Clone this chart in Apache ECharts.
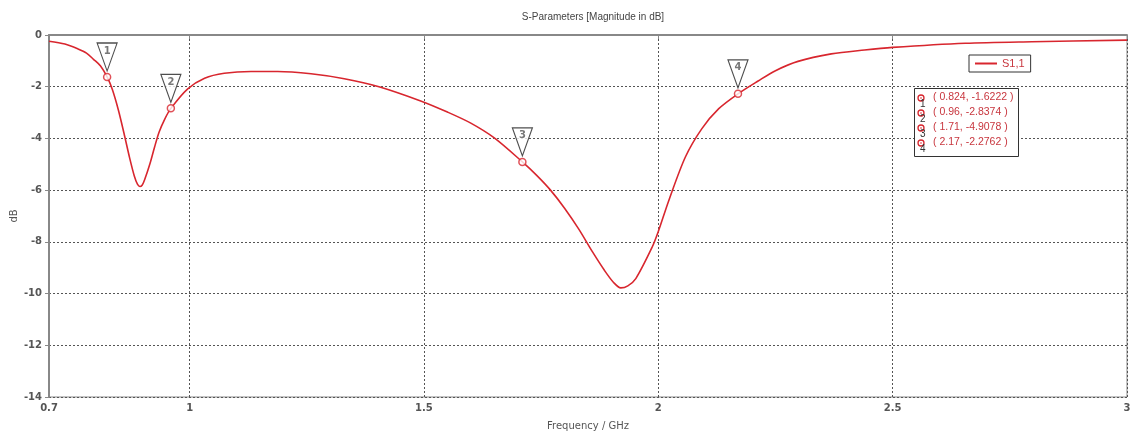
<!DOCTYPE html>
<html>
<head>
<meta charset="utf-8">
<title>S-Parameters</title>
<script src="https://cdn.jsdelivr.net/npm/echarts@6/dist/echarts.min.js"></script>
<style>
  html, body { margin: 0; padding: 0; background: #fff; }
  #chart { width: 1134px; height: 436px; }
</style>
</head>
<body>
<div id="chart"></div>
<script>
// S1,1 扫频数据 (GHz / dB)
const freq = [0.70, 0.734, 0.762, 0.78, 0.795, 0.81, 0.824, 0.835, 0.848, 0.86, 0.872, 0.882, 0.889, 0.894,
  0.899, 0.904, 0.915, 0.925, 0.935, 0.947, 0.96, 0.996, 1.032, 1.074, 1.131, 1.188, 1.259, 1.33, 1.404, 1.493,
  1.55, 1.599, 1.65, 1.71, 1.74, 1.77, 1.80, 1.83, 1.86, 1.885, 1.905, 1.92, 1.935, 1.952, 1.987, 2.0, 2.023,
  2.058, 2.093, 2.129, 2.17, 2.213, 2.25, 2.298, 2.369, 2.44, 2.5, 2.655, 2.797, 3.0]
const s11 = [-0.24, -0.35, -0.54, -0.7, -0.94, -1.2, -1.6222, -2.1, -2.9, -3.8, -4.75, -5.45, -5.78, -5.86,
  -5.8, -5.6, -5.0, -4.35, -3.75, -3.25, -2.8374, -2.08, -1.67, -1.48, -1.41, -1.41, -1.5, -1.69, -2.0, -2.55,
  -2.98, -3.4, -3.98, -4.9078, -5.42, -6.0, -6.7, -7.5, -8.4, -9.1, -9.58, -9.78, -9.7, -9.42, -8.2, -7.6, -6.37,
  -4.71, -3.62, -2.85, -2.2762, -1.78, -1.38, -1.02, -0.73, -0.58, -0.48, -0.32, -0.26, -0.2]

// 标记点
const markerNames = ['1', '2', '3', '4']
const markerFreq = [0.824, 0.96, 1.71, 2.17]
const markerDb = [-1.6222, -2.8374, -4.9078, -2.2762]

// 刻度
const xTicks = [0.7, 1, 1.5, 2, 2.5, 3]

const red = '#d8262e'
const labelGray = '#555'

const chart = echarts.init(document.getElementById('chart'))

// 标记表格 (右上角)
const tableRows = markerNames.map((n, i) => {
  const y = 98 + i * 15
  return [
    { type: 'circle', shape: { cx: 921, cy: y, r: 3 }, style: { fill: '#fff', stroke: red, lineWidth: 1.3 } },
    { type: 'circle', shape: { cx: 921, cy: y, r: 0.8 }, style: { fill: red } },
    { type: 'text', x: 920, y: y + 1, style: { text: n, fill: '#333', font: '10px "Liberation Sans"' } },
    { type: 'text', x: 933, y: y - 6, style: { text: '( ' + markerFreq[i] + ', ' + markerDb[i].toFixed(4) + ' )', fill: '#c8363e', font: '10.5px "Liberation Sans"' } }
  ]
}).flat()

const option = {
  animation: false,
  title: {
    text: 'S-Parameters [Magnitude in dB]',
    left: 588,
    textAlign: 'center',
    top: 7,
    textStyle: { fontSize: 10, fontWeight: 'normal', color: '#444', fontFamily: 'Liberation Sans' }
  },
  legend: {
    data: ['S1,1'],
    left: 969,
    top: 55,
    padding: [3, 6, 3, 6],
    borderColor: '#333',
    borderWidth: 1,
    itemWidth: 22,
    itemHeight: 10,
    icon: 'path://M0,4 L22,4 L22,6 L0,6 Z',
    textStyle: { color: '#c8363e', fontSize: 11, fontFamily: 'Liberation Sans' }
  },
  grid: {
    left: 49, right: 7, top: 35, bottom: 39,
    outerBoundsMode: 'none',
    containLabel: false,
    show: true, borderColor: '#888', borderWidth: 1
  },
  xAxis: {
    type: 'value',
    min: 0.7,
    max: 3,
    name: 'Frequency / GHz',
    nameLocation: 'middle',
    nameGap: 24,
    nameTextStyle: { fontSize: 10, color: labelGray, fontFamily: 'DejaVu Sans' },
    axisLine: { lineStyle: { color: '#888', width: 2 } },
    axisTick: { show: true, length: 4, customValues: xTicks, lineStyle: { color: '#888' } },
    axisLabel: {
      customValues: xTicks,
      color: labelGray, fontSize: 10, fontWeight: 'bold', fontFamily: 'DejaVu Sans', margin: 6
    },
    splitLine: { show: true, lineStyle: { color: '#555', type: [2, 2], width: 1 } }
  },
  yAxis: {
    type: 'value',
    min: -14,
    max: 0,
    interval: 2,
    axisLine: { show: true, lineStyle: { color: '#888', width: 2 } },
    axisTick: { show: true, length: 4, lineStyle: { color: '#888' } },
    axisLabel: { color: labelGray, fontSize: 10, fontWeight: 'bold', fontFamily: 'DejaVu Sans', margin: 7 },
    splitLine: { show: true, lineStyle: { color: '#555', type: [2, 2], width: 1 } }
  },
  series: [
    {
      name: 'S1,1',
      type: 'line',
      smooth: 0.3,
      showSymbol: false,
      lineStyle: { color: red, width: 1.6 },
      itemStyle: { color: red },
      data: freq.map((f, i) => [f, s11[i]]),
      z: 3
    },
    {
      name: 'marker-point',
      type: 'scatter',
      symbol: 'circle',
      symbolSize: 7,
      itemStyle: { color: '#fff', borderColor: red, borderWidth: 1.5 },
      data: markerFreq.map((f, i) => [f, markerDb[i]]),
      z: 5
    },
    {
      name: 'marker-flag',
      type: 'scatter',
      symbol: 'path://M0,0 L20,0 L10,28 Z',
      symbolSize: [20, 28],
      symbolOffset: [0, -20],
      itemStyle: { color: '#fff', borderColor: '#222', borderWidth: 1.2 },
      label: {
        show: true,
        position: 'inside',
        formatter: (p) => markerNames[p.dataIndex],
        offset: [0, -6],
        color: '#555',
        fontSize: 10,
        fontWeight: 'bold',
        fontFamily: 'DejaVu Sans'
      },
      data: markerFreq.map((f, i) => [f, markerDb[i]]),
      z: 4
    }
  ],
  graphic: [
    // y 轴名称 (竖排)
    {
      type: 'text', x: 14, y: 216, rotation: Math.PI / 2,
      style: { text: 'dB', fill: labelGray, font: '10px "DejaVu Sans"', align: 'center', verticalAlign: 'middle' }
    },
    { type: 'rect', shape: { x: 914.5, y: 88.5, width: 104, height: 68 }, style: { fill: '#fff', stroke: '#333', lineWidth: 1 }, z: 10 },
    ...tableRows.map(el => Object.assign(el, { z: 11 }))
  ]
}
chart.setOption(option)
</script>
</body>
</html>
